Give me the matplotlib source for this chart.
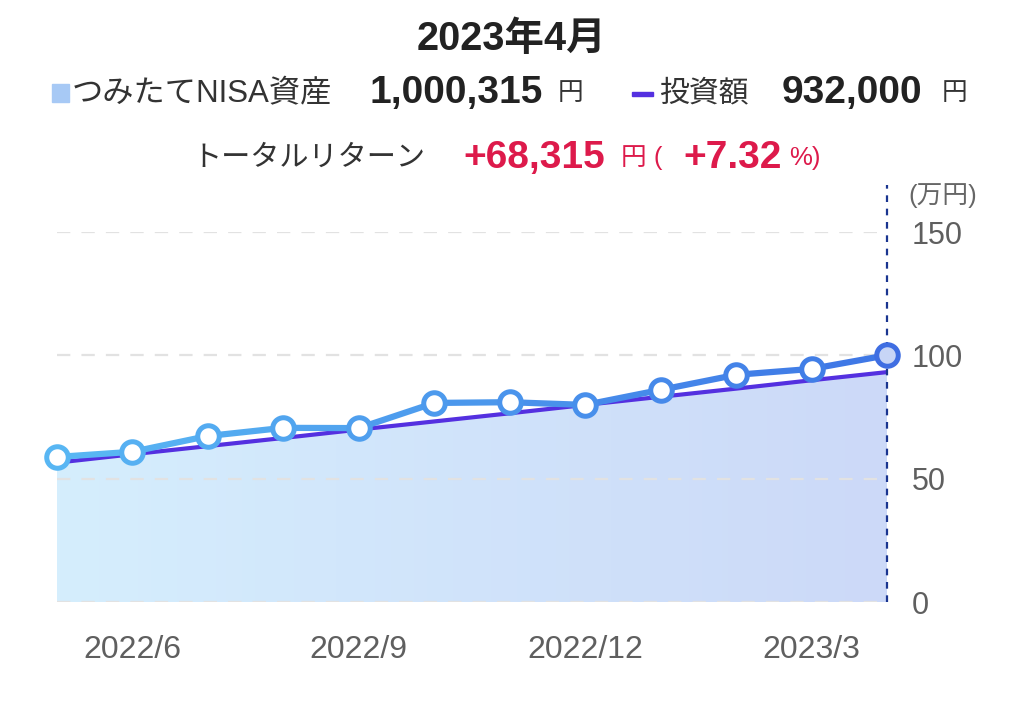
import numpy as np
import matplotlib.pyplot as plt
from matplotlib.colors import LinearSegmentedColormap
from matplotlib.collections import LineCollection

plt.rcParams['font.family'] = ['Liberation Sans', 'Noto Sans CJK JP', 'DejaVu Sans']

# monthly values, 万円 (2022/5 .. 2023/4)
months = ['2022/5', '2022/6', '2022/7', '2022/8', '2022/9', '2022/10',
          '2022/11', '2022/12', '2023/1', '2023/2', '2023/3', '2023/4']
assets = [58.8, 60.9, 67.3, 70.6, 70.5, 80.7, 81.0, 79.9, 86.0, 92.1, 94.5, 100.03]
invested = [56.5, 59.9, 63.2, 66.5, 69.9, 73.2, 76.5, 79.9, 83.2, 86.5, 89.9, 93.2]
tickMonths = ['2022/6', '2022/9', '2022/12', '2023/3']
yTicks = [0, 50, 100, 150]

x = np.arange(len(months))

fig = plt.figure(figsize=(10.24, 7.04), dpi=100)
ax = fig.add_axes([57 / 1024, 1 - 602 / 704, 830 / 1024, 370 / 704])
ax.set_xlim(0, len(months) - 1)
ax.set_ylim(0, 150)

# gradient area under the investment line
#
poly = ax.fill_between(x, invested, 0, color='none', lw=0)
fillCmap = LinearSegmentedColormap.from_list('fill', ['#d5eefd', '#ccd9f8'])
grad = np.linspace(0, 1, 256).reshape(1, -1)
im = ax.imshow(grad, extent=[0, len(months) - 1, 0, 150], aspect='auto',
               cmap=fillCmap, zorder=1, origin='lower')
im.set_clip_path(poly.get_paths()[0], transform=ax.transData)

# dashed grid
for yv in yTicks:
    ax.axhline(yv, color='#e2e2e2', lw=1.6, ls=(0, (6, 5)), zorder=2)

# investment line
ax.plot(x, invested, color='#5430e0', lw=3.0, zorder=3, solid_capstyle='round')

# asset line with left-to-right colour shift
#
lineCmap = LinearSegmentedColormap.from_list('line', ['#58b6f3', '#3f78e6'])
pts = np.column_stack([x, assets])
segs = np.stack([pts[:-1], pts[1:]], axis=1)
lc = LineCollection(segs, colors=lineCmap(np.linspace(0, 1, len(segs))),
                    linewidths=4.5, zorder=4, capstyle='round')
ax.add_collection(lc)
edgeCols = lineCmap(np.linspace(0, 1, len(months)))
for i in range(len(months)):
    last = i == len(months) - 1
    ax.plot(x[i], assets[i], 'o', ms=15.5, mew=3.6,
            mfc='#c7d5f6' if last else 'white',
            mec='#3f6ee2' if last else edgeCols[i],
            zorder=6, clip_on=False)

# current-month marker line
ax.plot([x[-1], x[-1]], [0, 169], color='#1a3590', lw=1.6,
        ls=(0, (3, 3)), zorder=5, clip_on=False)

ax.set_xticks([months.index(m) for m in tickMonths])
ax.set_xticklabels(tickMonths, fontsize=23)
ax.set_yticks(yTicks)
ax.set_yticklabels([str(v) for v in yTicks], fontsize=22)
ax.yaxis.tick_right()
ax.tick_params(axis='both', length=0, colors='#5f5f5f')
ax.tick_params(axis='x', pad=24)
ax.tick_params(axis='y', pad=18)
for s in ax.spines.values():
    s.set_visible(False)
ax.patch.set_alpha(0)

# header texts
#
fig.text(511 / 1024, 1 - 39 / 704, '2023年4月', ha='center', va='center',
         fontsize=28.5, fontweight='bold', color='#222222')

yRow = 1 - 93 / 704
fig.patches.append(plt.Rectangle((52 / 1024, 1 - 102 / 704), 17 / 1024, 18 / 704,
                                 transform=fig.transFigure, color='#a7c9f5'))
fig.text(72 / 1024, yRow, 'つみたてNISA資産', va='center', fontsize=22.5, color='#333333')
fig.text(369 / 1024, yRow, '1,000,315', va='center', fontsize=28,
         fontweight='bold', color='#222222')
fig.text(558 / 1024, yRow, '円', va='center', fontsize=18.5, color='#333333')
fig.patches.append(plt.Rectangle((632 / 1024, 1 - 96 / 704), 21 / 1024, 4 / 704,
                                 transform=fig.transFigure, color='#5430e0'))
fig.text(659 / 1024, yRow, '投資額', va='center', fontsize=21.5, color='#333333')
fig.text(782 / 1024, yRow, '932,000', va='center', fontsize=28,
         fontweight='bold', color='#222222')
fig.text(942 / 1024, yRow, '円', va='center', fontsize=18.5, color='#333333')

yRow2 = 1 - 158 / 704
red = '#dd1a4b'
fig.text(192 / 1024, yRow2, 'トータルリターン', va='center', fontsize=21, color='#333333')
fig.text(463 / 1024, yRow2, '+68,315', va='center', fontsize=28,
         fontweight='bold', color=red)
fig.text(621 / 1024, yRow2, '円 (', va='center', fontsize=18.5, color=red)
fig.text(683 / 1024, yRow2, '+7.32', va='center', fontsize=28,
         fontweight='bold', color=red)
fig.text(789 / 1024, yRow2, '%)', va='center', fontsize=18.5, color=red)

fig.text(908 / 1024, 1 - 196 / 704, '(万円)', va='center', fontsize=18.5, color='#666666')

plt.savefig('out.png', dpi=100)
